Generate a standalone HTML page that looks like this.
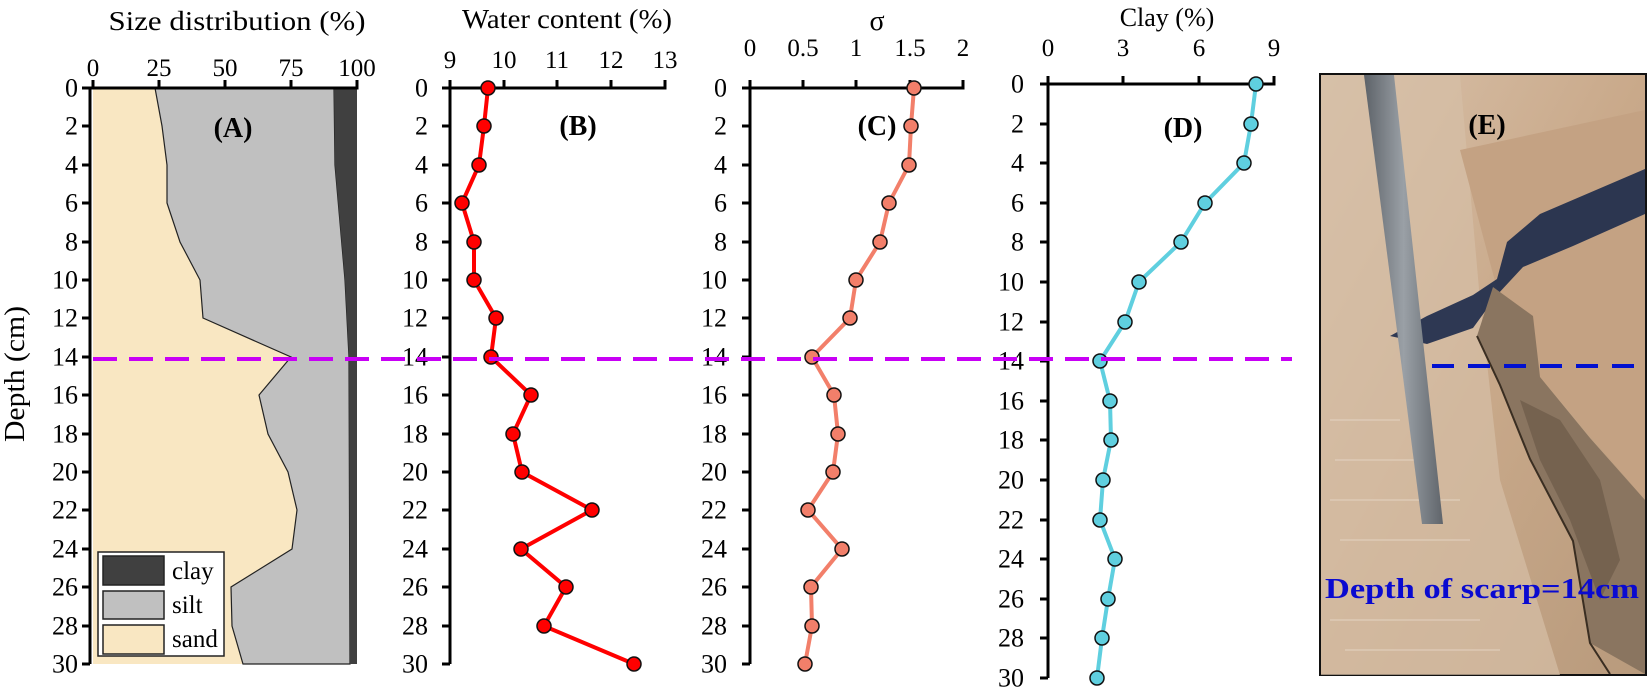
<!DOCTYPE html>
<html><head><meta charset="utf-8"><style>
html,body{margin:0;padding:0;background:#fff;}
svg{display:block;}
text{font-family:"Liberation Serif","DejaVu Serif",serif;fill:#000;}
</style></head><body>
<svg width="1649" height="688" viewBox="0 0 1649 688" xmlns="http://www.w3.org/2000/svg" font-family="Liberation Serif, DejaVu Serif, serif">
<defs>
<linearGradient id="pg" x1="0" y1="0" x2="1" y2="1">
<stop offset="0" stop-color="#d9c2ab"/><stop offset="0.5" stop-color="#c9a98a"/><stop offset="1" stop-color="#b89a7c"/>
</linearGradient>
<linearGradient id="rg" x1="0" y1="0" x2="1" y2="0">
<stop offset="0" stop-color="#5d6268"/><stop offset="0.5" stop-color="#9aa0a6"/><stop offset="1" stop-color="#60656b"/>
</linearGradient>
</defs>

<!-- Panel A -->
<polygon fill="#f9e7c2" points="93,88 155,88 162,126 167,165 167,203 180,242 200,280 203,318 291,357 259,395 268,434 288,472 297,510 292,549 231,587 232,626 243,664 93,664"/>
<polygon fill="#c0c0c0" stroke="#222" stroke-width="1.2" points="155,88 334,88 335,165 345,280 349,357 350,664 243,664 232,626 231,587 292,549 297,510 288,472 268,434 259,395 291,357 203,318 200,280 180,242 167,203 167,165 162,126"/>
<polygon fill="#404040" points="334,88 357,88 357,664 350,664 349,357 345,280 335,165"/>
<rect x="98" y="552" width="126" height="104" fill="#fff" stroke="#222" stroke-width="1.5"/>
<rect x="103" y="556" width="61" height="29" fill="#404040" stroke="#222" stroke-width="1.5"/>
<rect x="103" y="591" width="61" height="28" fill="#c0c0c0" stroke="#222" stroke-width="1.5"/>
<rect x="103" y="625" width="61" height="29" fill="#f9e7c2" stroke="#222" stroke-width="1.5"/>
<text x="172" y="579" font-size="25">clay</text>
<text x="172" y="613" font-size="25">silt</text>
<text x="172" y="647" font-size="25">sand</text>
<g stroke="#000" stroke-width="3" fill="none">
<path d="M90,664 V88 H357 V80"/>
<path d="M93,88 V80 M159,88 V80 M225,88 V80 M291,88 V80"/>
</g>
<g font-size="25" text-anchor="middle">
<text x="93" y="76">0</text><text x="159" y="76">25</text><text x="225" y="76">50</text><text x="291" y="76">75</text><text x="357" y="76">100</text>
</g>
<text x="237" y="30" font-size="27" text-anchor="middle" textLength="257" lengthAdjust="spacingAndGlyphs">Size distribution (%)</text>
<text x="233" y="137" font-size="28" font-weight="bold" text-anchor="middle">(A)</text>
<text transform="translate(24,374) rotate(-90)" font-size="28" text-anchor="middle" textLength="136" lengthAdjust="spacingAndGlyphs">Depth (cm)</text>

<!-- Panel B -->
<g stroke="#000" stroke-width="3" fill="none">
<path d="M450,664 V88 H665 V80"/>
<path d="M450,88 V80 M504,88 V80 M557,88 V80 M611,88 V80"/>
</g>
<g font-size="25" text-anchor="middle">
<text x="450" y="68">9</text><text x="504" y="68">10</text><text x="557" y="68">11</text><text x="611" y="68">12</text><text x="665" y="68">13</text>
</g>
<text x="567" y="28" font-size="27" text-anchor="middle" textLength="210" lengthAdjust="spacingAndGlyphs">Water content (%)</text>
<text x="578" y="135" font-size="28" font-weight="bold" text-anchor="middle">(B)</text>
<polyline fill="none" stroke="#ff0000" stroke-width="4" points="488,88 484,126 479,165 462,203 474,242 474,280 496,318 491,357 531,395 513,434 522,472 592,510 521,549 566,587 544,626 634,664"/>
<g fill="#ff0000" stroke="#111" stroke-width="1.5">
<circle cx="488" cy="88" r="7"/><circle cx="484" cy="126" r="7"/><circle cx="479" cy="165" r="7"/><circle cx="462" cy="203" r="7"/><circle cx="474" cy="242" r="7"/><circle cx="474" cy="280" r="7"/><circle cx="496" cy="318" r="7"/><circle cx="491" cy="357" r="7"/><circle cx="531" cy="395" r="7"/><circle cx="513" cy="434" r="7"/><circle cx="522" cy="472" r="7"/><circle cx="592" cy="510" r="7"/><circle cx="521" cy="549" r="7"/><circle cx="566" cy="587" r="7"/><circle cx="544" cy="626" r="7"/><circle cx="634" cy="664" r="7"/>
</g>

<!-- Panel C -->
<g stroke="#000" stroke-width="3" fill="none">
<path d="M750,664 V88 H963 V80"/>
<path d="M750,88 V80 M803,88 V80 M856,88 V80 M910,88 V80"/>
</g>
<g font-size="25" text-anchor="middle">
<text x="750" y="56">0</text><text x="803" y="56">0.5</text><text x="856" y="56">1</text><text x="910" y="56">1.5</text><text x="963" y="56">2</text>
</g>
<text x="877" y="30" font-size="28" text-anchor="middle">σ</text>
<text x="877" y="135" font-size="28" font-weight="bold" text-anchor="middle">(C)</text>
<polyline fill="none" stroke="#f27f6a" stroke-width="4" points="914,88 911,126 909,165 889,203 880,242 856,280 850,318 812,357 834,395 838,434 833,472 808,510 842,549 811,587 812,626 805,664"/>
<g fill="#f27f6a" stroke="#111" stroke-width="1.5">
<circle cx="914" cy="88" r="7"/><circle cx="911" cy="126" r="7"/><circle cx="909" cy="165" r="7"/><circle cx="889" cy="203" r="7"/><circle cx="880" cy="242" r="7"/><circle cx="856" cy="280" r="7"/><circle cx="850" cy="318" r="7"/><circle cx="812" cy="357" r="7"/><circle cx="834" cy="395" r="7"/><circle cx="838" cy="434" r="7"/><circle cx="833" cy="472" r="7"/><circle cx="808" cy="510" r="7"/><circle cx="842" cy="549" r="7"/><circle cx="811" cy="587" r="7"/><circle cx="812" cy="626" r="7"/><circle cx="805" cy="664" r="7"/>
</g>

<!-- Panel D -->
<g stroke="#000" stroke-width="3" fill="none">
<path d="M1048,678 V84 H1274 V76"/>
<path d="M1048,84 V76 M1123,84 V76 M1199,84 V76"/>
</g>
<g font-size="25" text-anchor="middle">
<text x="1048" y="56">0</text><text x="1123" y="56">3</text><text x="1199" y="56">6</text><text x="1274" y="56">9</text>
</g>
<text x="1167" y="26" font-size="26" text-anchor="middle">Clay (%)</text>
<text x="1183" y="137" font-size="28" font-weight="bold" text-anchor="middle">(D)</text>
<polyline fill="none" stroke="#5fcfdf" stroke-width="4" points="1256,84 1251,124 1244,163 1205,203 1181,242 1139,282 1125,322 1100,361 1110,401 1111,440 1103,480 1100,520 1115,559 1108,599 1102,638 1097,678"/>
<g fill="#5fcfdf" stroke="#111" stroke-width="1.5">
<circle cx="1256" cy="84" r="7"/><circle cx="1251" cy="124" r="7"/><circle cx="1244" cy="163" r="7"/><circle cx="1205" cy="203" r="7"/><circle cx="1181" cy="242" r="7"/><circle cx="1139" cy="282" r="7"/><circle cx="1125" cy="322" r="7"/><circle cx="1100" cy="361" r="7"/><circle cx="1110" cy="401" r="7"/><circle cx="1111" cy="440" r="7"/><circle cx="1103" cy="480" r="7"/><circle cx="1100" cy="520" r="7"/><circle cx="1115" cy="559" r="7"/><circle cx="1108" cy="599" r="7"/><circle cx="1102" cy="638" r="7"/><circle cx="1097" cy="678" r="7"/>
</g>

<!-- Y ticks -->
<g stroke="#000" stroke-width="3">
<path d="M82,88 H90 M82,126 H90 M82,165 H90 M82,203 H90 M82,242 H90 M82,280 H90 M82,318 H90 M82,357 H90 M82,395 H90 M82,434 H90 M82,472 H90 M82,510 H90 M82,549 H90 M82,587 H90 M82,626 H90 M82,664 H90"/>
<path d="M442,88 H450 M442,126 H450 M442,165 H450 M442,203 H450 M442,242 H450 M442,280 H450 M442,318 H450 M442,357 H450 M442,395 H450 M442,434 H450 M442,472 H450 M442,510 H450 M442,549 H450 M442,587 H450 M442,626 H450 M442,664 H450"/>
<path d="M742,88 H750 M742,126 H750 M742,165 H750 M742,203 H750 M742,242 H750 M742,280 H750 M742,318 H750 M742,357 H750 M742,395 H750 M742,434 H750 M742,472 H750 M742,510 H750 M742,549 H750 M742,587 H750 M742,626 H750 M742,664 H750"/>
<path d="M1040,84 H1048 M1040,124 H1048 M1040,163 H1048 M1040,203 H1048 M1040,242 H1048 M1040,282 H1048 M1040,322 H1048 M1040,361 H1048 M1040,401 H1048 M1040,440 H1048 M1040,480 H1048 M1040,520 H1048 M1040,559 H1048 M1040,599 H1048 M1040,638 H1048 M1040,678 H1048"/>
</g>
<g font-size="26" text-anchor="end" dominant-baseline="central">
<g>
<text x="78" y="88">0</text><text x="78" y="126">2</text><text x="78" y="165">4</text><text x="78" y="203">6</text><text x="78" y="242">8</text><text x="78" y="280">10</text><text x="78" y="318">12</text><text x="78" y="357">14</text><text x="78" y="395">16</text><text x="78" y="434">18</text><text x="78" y="472">20</text><text x="78" y="510">22</text><text x="78" y="549">24</text><text x="78" y="587">26</text><text x="78" y="626">28</text><text x="78" y="664">30</text>
</g>
<g>
<text x="428" y="88">0</text><text x="428" y="126">2</text><text x="428" y="165">4</text><text x="428" y="203">6</text><text x="428" y="242">8</text><text x="428" y="280">10</text><text x="428" y="318">12</text><text x="428" y="357">14</text><text x="428" y="395">16</text><text x="428" y="434">18</text><text x="428" y="472">20</text><text x="428" y="510">22</text><text x="428" y="549">24</text><text x="428" y="587">26</text><text x="428" y="626">28</text><text x="428" y="664">30</text>
</g>
<g>
<text x="727" y="88">0</text><text x="727" y="126">2</text><text x="727" y="165">4</text><text x="727" y="203">6</text><text x="727" y="242">8</text><text x="727" y="280">10</text><text x="727" y="318">12</text><text x="727" y="357">14</text><text x="727" y="395">16</text><text x="727" y="434">18</text><text x="727" y="472">20</text><text x="727" y="510">22</text><text x="727" y="549">24</text><text x="727" y="587">26</text><text x="727" y="626">28</text><text x="727" y="664">30</text>
</g>
<g>
<text x="1024" y="84">0</text><text x="1024" y="124">2</text><text x="1024" y="163">4</text><text x="1024" y="203">6</text><text x="1024" y="242">8</text><text x="1024" y="282">10</text><text x="1024" y="322">12</text><text x="1024" y="361">14</text><text x="1024" y="401">16</text><text x="1024" y="440">18</text><text x="1024" y="480">20</text><text x="1024" y="520">22</text><text x="1024" y="559">24</text><text x="1024" y="599">26</text><text x="1024" y="638">28</text><text x="1024" y="678">30</text>
</g>
</g>

<!-- magenta dashed line -->
<line x1="93" y1="359" x2="1292" y2="359" stroke="#c800f5" stroke-width="4" stroke-dasharray="24 12"/>

<!-- Panel E photo -->
<rect x="1320" y="74" width="326" height="601" fill="url(#pg)" stroke="#111" stroke-width="2"/>
<polygon fill="#d6bfa6" opacity="0.7" points="1321,75 1460,75 1480,300 1500,480 1560,675 1321,675"/>
<polygon fill="#c4a283" points="1460,150 1645,110 1645,500 1540,377 1500,300"/>
<polygon fill="#1c2a4a" opacity="0.9" points="1497,279 1507,242 1540,214 1645,169 1645,214 1573,246 1523,267 1497,295 1473,328 1427,344 1390,336 1427,316 1473,295"/>
<polygon fill="#8a7560" points="1493,287 1533,316 1540,377 1590,438 1645,500 1645,674 1590,643 1573,541 1530,459 1500,385 1477,336"/>
<polygon fill="#6c5a48" opacity="0.7" points="1520,400 1560,420 1600,480 1620,560 1600,600 1570,520 1540,460"/>
<path d="M1477,336 L1500,385 L1530,459 L1573,541 L1590,643 L1610,674" fill="none" stroke="#3a2e22" stroke-width="2"/>
<g stroke="#e6d6c6" stroke-width="1.5" opacity="0.6">
<path d="M1330,420 H1400 M1335,460 H1420 M1330,500 H1460 M1340,540 H1470 M1330,620 H1480 M1345,650 H1500"/>
</g>
<polygon fill="url(#rg)" points="1364,75 1394,75 1443,524 1422,524"/>
<line x1="1432" y1="366" x2="1645" y2="366" stroke="#0010d0" stroke-width="4" stroke-dasharray="22 14"/>
<text x="1487" y="134" font-size="28" font-weight="bold" text-anchor="middle">(E)</text>
<text x="1325" y="598" font-size="29" font-weight="bold" style="fill:#0a0ad0" textLength="314" lengthAdjust="spacingAndGlyphs">Depth of scarp=14cm</text>
</svg>
</body></html>
